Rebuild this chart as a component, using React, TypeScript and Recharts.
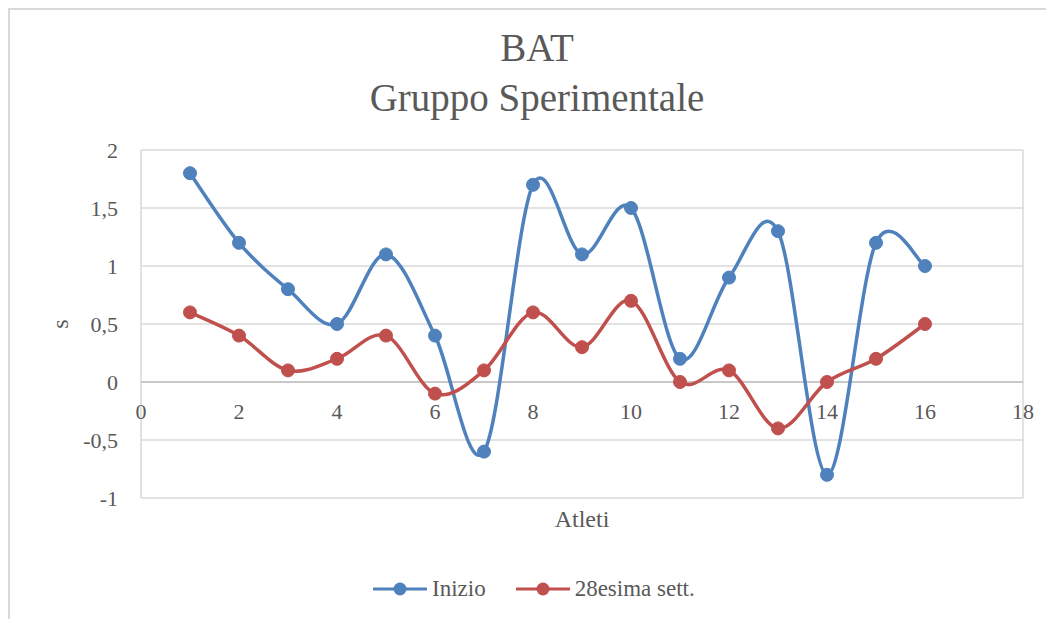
import React from 'react';
import {
  LineChart,
  Line,
  XAxis,
  YAxis,
  CartesianGrid,
  ReferenceLine,
  ReferenceDot,
  Legend,
} from 'recharts';

const atleti = [1, 2, 3, 4, 5, 6, 7, 8, 9, 10, 11, 12, 13, 14, 15, 16];
const inizio = [1.8, 1.2, 0.8, 0.5, 1.1, 0.4, -0.6, 1.7, 1.1, 1.5, 0.2, 0.9, 1.3, -0.8, 1.2, 1.0];
const settimana28 = [0.6, 0.4, 0.1, 0.2, 0.4, -0.1, 0.1, 0.6, 0.3, 0.7, 0, 0.1, -0.4, 0, 0.2, 0.5];
const serieNomi = ['Inizio', '28esima sett.'];
const xTicks = [0, 2, 4, 6, 8, 10, 12, 14, 16, 18];
const yTicks = [-1, -0.5, 0, 0.5, 1, 1.5, 2];

const TEXT = '#595959';
const FONT = '"Liberation Serif", "DejaVu Serif", serif';

const data = atleti.map((a, i) => ({ atleta: a, inizio: inizio[i], sett28: settimana28[i] }));

// curva smussata tipo Excel (Catmull-Rom -> Bezier)
function excelCurve(context: any) {
  let pts: number[][] = [];
  return {
    areaStart() {},
    areaEnd() {},
    lineStart() {
      pts = [];
    },
    point(x: number, y: number) {
      pts.push([+x, +y]);
    },
    lineEnd() {
      if (!pts.length) return;
      context.moveTo(pts[0][0], pts[0][1]);
      for (let i = 0; i < pts.length - 1; i++) {
        const p0 = pts[i - 1] || pts[i];
        const p1 = pts[i];
        const p2 = pts[i + 1];
        const p3 = pts[i + 2] || p2;
        context.bezierCurveTo(
          p1[0] + (p2[0] - p0[0]) / 6,
          p1[1] + (p2[1] - p0[1]) / 6,
          p2[0] - (p3[0] - p1[0]) / 6,
          p2[1] - (p3[1] - p1[1]) / 6,
          p2[0],
          p2[1],
        );
      }
    },
  };
}

function LegendContent({ payload }: any) {
  // stesso ordine delle serie, non alfabetico
  const items = (payload || [])
    .slice()
    .sort((a: any, b: any) => serieNomi.indexOf(a.value) - serieNomi.indexOf(b.value));
  return (
    <div style={{ display: 'flex', paddingLeft: 363, fontFamily: FONT, fontSize: 23, color: TEXT }}>
      {items.map((p: any) => (
        <div key={p.value} style={{ display: 'flex', alignItems: 'center', marginRight: 30 }}>
          <svg width={54} height={14} style={{ marginRight: 5 }}>
            <line x1={1} y1={7} x2={53} y2={7} stroke={p.color} strokeWidth={3} strokeLinecap="round" />
            <circle cx={27} cy={7} r={6.5} fill={p.color} />
          </svg>
          <span>{p.value}</span>
        </div>
      ))}
    </div>
  );
}

export default function App() {
  return (
    <div
      style={{
        position: 'relative',
        width: 1044,
        height: 609,
        borderLeft: '2px solid #d9d9d9',
        borderTop: '2px solid #d9d9d9',
        background: '#fff',
        fontFamily: FONT,
        overflow: 'hidden',
      }}
    >
      <div
        style={{
          position: 'absolute',
          top: 13,
          left: 0,
          width: 1054,
          textAlign: 'center',
          fontSize: 39,
          lineHeight: '50px',
          color: TEXT,
        }}
      >
        BAT
        <br />
        Gruppo Sperimentale
      </div>
      <LineChart
        width={1044}
        height={609}
        data={data}
        margin={{ top: 140, right: 31, left: 0, bottom: 81 }}
      >
        <CartesianGrid stroke="#d9d9d9" strokeWidth={1.5} />
        <XAxis
          dataKey="atleta"
          type="number"
          domain={[0, 18]}
          ticks={xTicks}
          tick={false}
          axisLine={false}
          tickLine={false}
          height={40}
          label={{ value: 'Atleti', position: 'insideTop', offset: 12, fill: TEXT, fontSize: 24 }}
        />
        <YAxis
          type="number"
          domain={[-1, 2]}
          ticks={yTicks}
          width={131}
          axisLine={false}
          tickLine={false}
          tickSize={0}
          tickMargin={23}
          tick={{ fill: TEXT, fontSize: 22 }}
          tickFormatter={(v: number) => String(v).replace('.', ',')}
          label={({ viewBox }: any) => {
            const cx = viewBox.x + 50;
            const cy = viewBox.y + viewBox.height / 2;
            return (
              <text
                x={cx}
                y={cy}
                fill={TEXT}
                fontSize={24}
                textAnchor="middle"
                dominantBaseline="central"
                transform={`rotate(-90 ${cx} ${cy})`}
              >
                s
              </text>
            );
          }}
        />
        <ReferenceLine y={0} stroke="#bfbfbf" strokeWidth={1.5} />
        {xTicks.map(t => (
          <ReferenceDot
            key={t}
            x={t}
            y={0}
            r={0}
            fill="none"
            stroke="none"
            label={{ value: t, position: 'bottom', offset: 21, fill: TEXT, fontSize: 22 }}
          />
        ))}
        <Legend
          layout="horizontal"
          verticalAlign="middle"
          align="center"
          wrapperStyle={{ top: 566, left: 0, width: 1044 }}
          content={<LegendContent />}
        />
        <Line
          name="Inizio"
          dataKey="inizio"
          type={excelCurve as any}
          stroke="#4f81bd"
          strokeWidth={3.5}
          dot={{ r: 6.5, fill: '#4f81bd', stroke: '#4f81bd', strokeWidth: 1 }}
          activeDot={false}
          isAnimationActive={false}
        />
        <Line
          name="28esima sett."
          dataKey="sett28"
          type={excelCurve as any}
          stroke="#c0504d"
          strokeWidth={3.5}
          dot={{ r: 6.5, fill: '#c0504d', stroke: '#c0504d', strokeWidth: 1 }}
          activeDot={false}
          isAnimationActive={false}
        />
      </LineChart>
    </div>
  );
}
